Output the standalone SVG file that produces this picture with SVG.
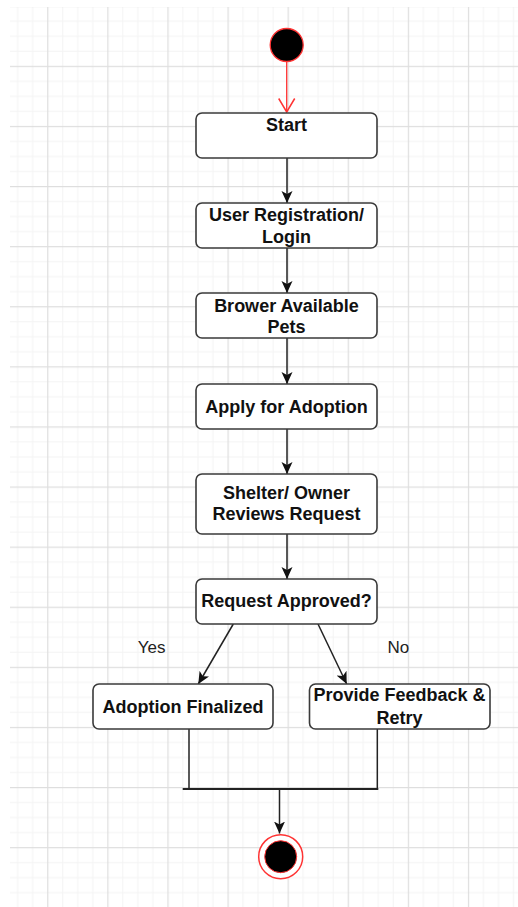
<svg xmlns="http://www.w3.org/2000/svg" width="518" height="907" viewBox="0 0 518 907">
  <style>
    .box { fill: #ffffff; stroke: #3a3a3a; stroke-width: 1.6; }
    .lbl { font-family: "Liberation Sans", Arial, sans-serif; font-weight: bold; font-size: 18px; fill: #111111; text-anchor: middle; }
    .edge { fill: none; stroke: #222222; stroke-width: 1.5; }
    .elbl { font-family: "Liberation Sans", Arial, sans-serif; font-size: 17px; fill: #222222; text-anchor: middle; }
  </style>
  <defs>
    <pattern id="grid" patternUnits="userSpaceOnUse" x="47.2" y="65.8" width="60.1" height="60.1">
      <rect x="15.025" y="0" width="1" height="60.1" fill="#f3f3f3"/>
      <rect x="30.05" y="0" width="1" height="60.1" fill="#f3f3f3"/>
      <rect x="45.075" y="0" width="1" height="60.1" fill="#f3f3f3"/>
      <rect x="0" y="15.025" width="60.1" height="1" fill="#f3f3f3"/>
      <rect x="0" y="30.05" width="60.1" height="1" fill="#f3f3f3"/>
      <rect x="0" y="45.075" width="60.1" height="1" fill="#f3f3f3"/>
      <rect x="0" y="0" width="1.2" height="60.1" fill="#dedede"/>
      <rect x="0" y="0" width="60.1" height="1.2" fill="#dedede"/>
    </pattern>
    <marker id="arr" markerUnits="userSpaceOnUse" markerWidth="14" markerHeight="12" refX="12" refY="6" orient="auto">
      <path d="M0,0.5 L12,6 L0,11.5 L3,6 Z" fill="#111111"/>
    </marker>
    <marker id="open" markerUnits="userSpaceOnUse" markerWidth="18" markerHeight="20" refX="15" refY="10" orient="auto">
      <path d="M1.5,2 L15,10 L1.5,18" fill="none" stroke="#ff3333" stroke-width="1.5"/>
    </marker>
  </defs>

  <rect x="0" y="0" width="518" height="907" fill="#ffffff"/>
  <rect x="10" y="7" width="508" height="900" fill="url(#grid)"/>

  <g id="connectors">
    <line x1="286.7" y1="62" x2="286.7" y2="112" stroke="#ff3333" stroke-width="1.3" marker-end="url(#open)"/>
    <line class="edge" x1="287" y1="158" x2="287" y2="203" marker-end="url(#arr)"/>
    <line class="edge" x1="287" y1="248" x2="287" y2="293" marker-end="url(#arr)"/>
    <line class="edge" x1="287" y1="338" x2="287" y2="384" marker-end="url(#arr)"/>
    <line class="edge" x1="287" y1="429" x2="287" y2="474" marker-end="url(#arr)"/>
    <line class="edge" x1="287" y1="534" x2="287" y2="579" marker-end="url(#arr)"/>
    <line class="edge" x1="233.3" y1="624" x2="198.3" y2="684" marker-end="url(#arr)"/>
    <line class="edge" x1="318" y1="624" x2="346.7" y2="684" marker-end="url(#arr)"/>
    <line class="edge" x1="189" y1="729" x2="189" y2="789"/>
    <line class="edge" x1="377.3" y1="729" x2="377.3" y2="789"/>
    <line x1="182.7" y1="789" x2="378.3" y2="789" stroke="#222222" stroke-width="2"/>
    <line class="edge" x1="279.5" y1="789" x2="279.5" y2="833.5" marker-end="url(#arr)"/>
    <text class="elbl" x="151.6" y="653.3">Yes</text>
    <text class="elbl" x="398.3" y="653.3">No</text>
  </g>

  <g id="initial">
    <circle cx="286.7" cy="45" r="16.5" fill="#000000" stroke="#ff3333" stroke-width="1.3"/>
  </g>

  <g id="start">
    <rect class="box" x="196" y="113" width="181" height="45" rx="6"/>
    <text class="lbl" x="286.5" y="131">Start</text>
  </g>

  <g id="login">
    <rect class="box" x="196" y="203" width="181" height="45" rx="6"/>
    <text class="lbl" x="286.5" y="220.7">User Registration/</text>
    <text class="lbl" x="286.5" y="242.7">Login</text>
  </g>

  <g id="browse">
    <rect class="box" x="196" y="293" width="181" height="45" rx="6"/>
    <text class="lbl" x="286.5" y="312">Brower Available</text>
    <text class="lbl" x="286.5" y="333">Pets</text>
  </g>

  <g id="apply">
    <rect class="box" x="196" y="384" width="181" height="45" rx="6"/>
    <text class="lbl" x="286.5" y="413.3">Apply for Adoption</text>
  </g>

  <g id="review">
    <rect class="box" x="196" y="474" width="181" height="60" rx="6"/>
    <text class="lbl" x="286.5" y="499.3">Shelter/ Owner</text>
    <text class="lbl" x="286.5" y="520">Reviews Request</text>
  </g>

  <g id="approved">
    <rect class="box" x="196" y="579" width="181" height="45" rx="6"/>
    <text class="lbl" x="286.5" y="606.7">Request Approved?</text>
  </g>

  <g id="finalized">
    <rect class="box" x="93" y="684" width="180" height="45" rx="6"/>
    <text class="lbl" x="183" y="712.7">Adoption Finalized</text>
  </g>

  <g id="feedback">
    <rect class="box" x="309.5" y="684" width="180.5" height="45" rx="6"/>
    <text class="lbl" x="399.5" y="700.7">Provide Feedback &amp;</text>
    <text class="lbl" x="399.5" y="724">Retry</text>
  </g>

  <g id="final">
    <circle cx="280.7" cy="856.7" r="22" fill="#ffffff" stroke="#ff3333" stroke-width="1.5"/>
    <circle cx="280.7" cy="856.7" r="16" fill="#000000" stroke="#ff3333" stroke-width="1"/>
  </g>
</svg>
